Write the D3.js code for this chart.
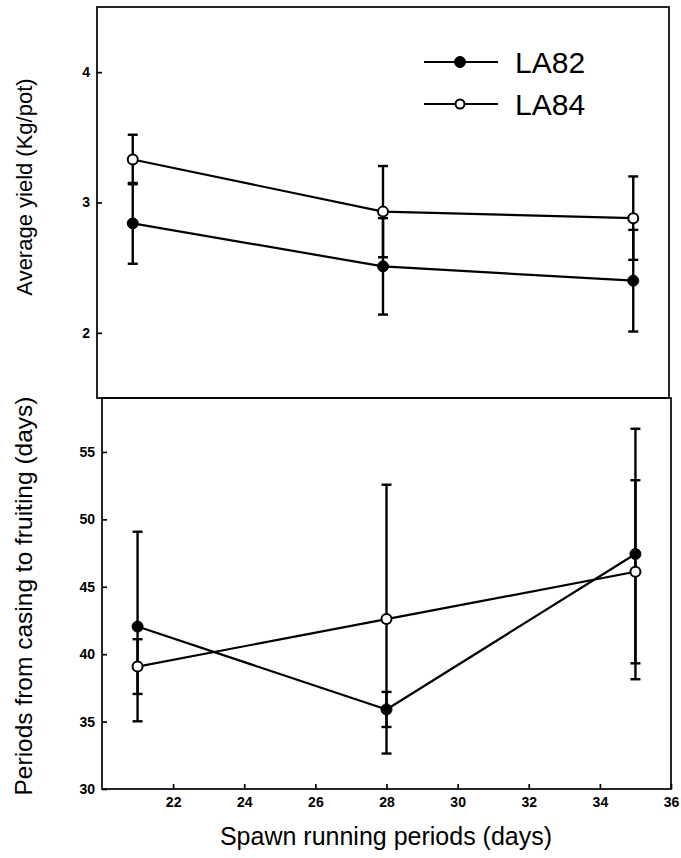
<!DOCTYPE html>
<html>
<head>
<meta charset="utf-8">
<script src="https://cdn.jsdelivr.net/npm/d3@7"></script>
<style>
  html, body { margin: 0; padding: 0; background: #fff; }
  svg { display: block; font-family: "Liberation Sans", Arial, sans-serif; }
</style>
</head>
<body>
<svg id="chart" width="681" height="858"></svg>
<script>
// spawn running periods (x, days)
const spawnDays = [21, 28, 35];
const xTicks = [22, 24, 26, 28, 30, 32, 34, 36];

// top panel: average yield (Kg/pot)
const yieldLA82 = [2.84, 2.51, 2.40];
const yieldErrLA82 = [0.31, 0.37, 0.39];
const yieldLA84 = [3.33, 2.93, 2.88];
const yieldErrLA84 = [0.19, 0.35, 0.32];
const yieldTicks = [2, 3, 4];

// bottom panel: periods from casing to fruiting (days)
const fruitLA82 = [42.05, 35.9, 47.43];
const fruitErrLA82 = [7.03, 1.3, 9.29];
const fruitLA84 = [39.08, 42.6, 46.11];
const fruitErrLA84 = [2.03, 9.97, 6.79];
const fruitTicks = [30, 35, 40, 45, 50, 55];

const seriesNames = ['LA82', 'LA84'];

const svg = d3.select('#chart');

function series(vals, errs, filled) {
  return spawnDays.map((d, i) => ({ x: d, y: vals[i], e: errs[i], filled: filled }));
}

function drawPanel(opts) {
  const x = d3.scaleLinear().domain([20, 36]).range([opts.left, opts.right]);
  const y = d3.scaleLinear().domain(opts.yDomain).range([opts.bottom, opts.top]);
  const g = svg.append('g');

  g.append('rect')
    .attr('x', opts.left).attr('y', opts.top)
    .attr('width', opts.right - opts.left)
    .attr('height', opts.bottom - opts.top)
    .attr('fill', 'none').attr('stroke', '#000').attr('stroke-width', 1.7);

  const yAxis = g.append('g')
    .attr('transform', `translate(${opts.left},0)`)
    .call(d3.axisLeft(y).tickValues(opts.yTicks).tickSize(-5).tickPadding(7).tickFormat(d3.format('d')));
  yAxis.select('.domain').remove();
  yAxis.selectAll('line').attr('stroke-width', 1.7);
  yAxis.selectAll('text').attr('font-size', 14).attr('font-weight', 'bold')
    .attr('font-family', '"Liberation Sans", Arial, sans-serif').attr('fill', '#000');

  if (opts.showX) {
    const xAxis = g.append('g')
      .attr('transform', `translate(0,${opts.bottom})`)
      .call(d3.axisBottom(x).tickValues(xTicks).tickSize(-5).tickPadding(8).tickFormat(d3.format('d')));
    xAxis.select('.domain').remove();
    xAxis.selectAll('line').attr('stroke-width', 1.7);
    xAxis.selectAll('text').attr('font-size', 14).attr('font-weight', 'bold')
      .attr('font-family', '"Liberation Sans", Arial, sans-serif').attr('fill', '#000');
  }

  const line = d3.line().x(d => x(d.x)).y(d => y(d.y));

  opts.data.forEach(s => {
    // error bars
    const eb = g.append('g').attr('stroke', '#000').attr('stroke-width', 2.4);
    s.forEach(d => {
      eb.append('line').attr('x1', x(d.x)).attr('x2', x(d.x))
        .attr('y1', y(d.y - d.e)).attr('y2', y(d.y + d.e));
      [d.y - d.e, d.y + d.e].forEach(v => {
        eb.append('line').attr('x1', x(d.x) - 5).attr('x2', x(d.x) + 5)
          .attr('y1', y(v)).attr('y2', y(v));
      });
    });
  });

  opts.data.forEach(s => {
    g.append('path').datum(s)
      .attr('fill', 'none').attr('stroke', '#000').attr('stroke-width', 2.2)
      .attr('stroke-linejoin', 'round')
      .attr('d', line);
  });

  opts.data.forEach(s => {
    g.selectAll(null).data(s).enter().append('circle')
      .attr('cx', d => x(d.x)).attr('cy', d => y(d.y))
      .attr('r', d => d.filled ? 5.5 : 5)
      .attr('fill', d => d.filled ? '#000' : '#fff')
      .attr('stroke', '#000').attr('stroke-width', d => d.filled ? 1 : 2);
  });
}

drawPanel({
  left: 97, right: 669, top: 7, bottom: 398,
  yDomain: [1.5, 4.5], yTicks: yieldTicks, showX: false,
  data: [series(yieldLA82, yieldErrLA82, true), series(yieldLA84, yieldErrLA84, false)]
});

drawPanel({
  left: 102, right: 671, top: 398, bottom: 789,
  yDomain: [30, 59], yTicks: fruitTicks, showX: true,
  data: [series(fruitLA82, fruitErrLA82, true), series(fruitLA84, fruitErrLA84, false)]
});

// legend
const legend = svg.append('g');
seriesNames.forEach((name, i) => {
  const ly = [62, 104][i];
  const row = legend.append('g');
  row.append('line').attr('x1', 424).attr('x2', 498).attr('y1', ly).attr('y2', ly)
    .attr('stroke', '#000').attr('stroke-width', 2.2);
  row.append('circle').attr('cx', 460).attr('cy', ly)
    .attr('r', i === 0 ? 5.5 : 4.5)
    .attr('fill', i === 0 ? '#000' : '#fff')
    .attr('stroke', '#000').attr('stroke-width', i === 0 ? 1 : 2);
  row.append('text').attr('x', 515).attr('y', ly + 11)
    .attr('font-size', 30).text(name);
});

// axis titles
svg.append('text')
  .attr('transform', 'translate(32,187) rotate(-90)')
  .attr('text-anchor', 'middle').attr('font-size', 22)
  .text('Average yield (Kg/pot)');

svg.append('text')
  .attr('transform', 'translate(32,596) rotate(-90)')
  .attr('text-anchor', 'middle').attr('font-size', 24.5)
  .text('Periods from casing to fruiting (days)');

svg.append('text')
  .attr('x', 386).attr('y', 845)
  .attr('text-anchor', 'middle').attr('font-size', 25)
  .text('Spawn running periods (days)');
</script>
</body>
</html>
